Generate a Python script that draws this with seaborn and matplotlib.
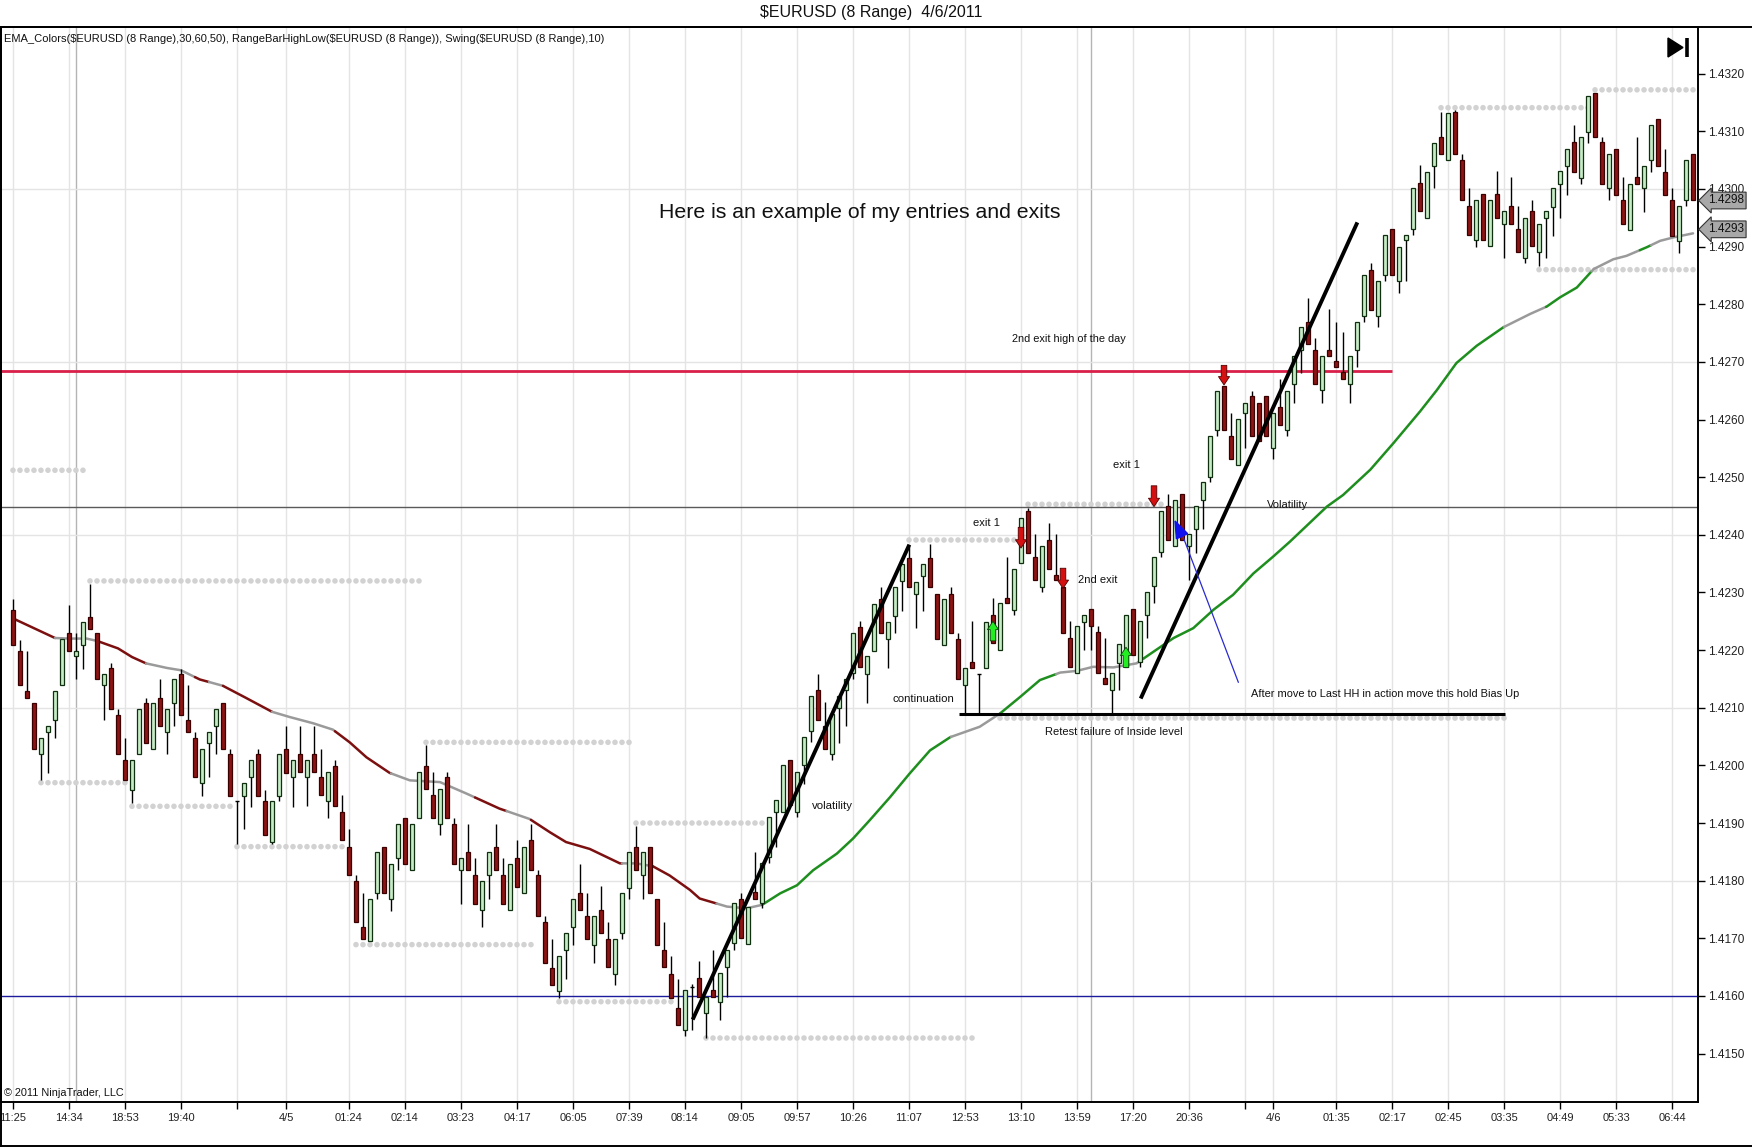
import numpy as np
import matplotlib
matplotlib.use("Agg")
import matplotlib.pyplot as plt
from matplotlib.lines import Line2D
import seaborn as sns

# price values are stored as pips above BASE
BASE = 1.4100
PIP = 0.0001

# range bar candles (open, close, high, low), bar 1..241
opens = [126.9, 119.8, 112.9, 110.8, 101.9, 105.8, 107.8, 113.9, 122.9, 119.0,
         120.8, 125.8, 122.9, 113.9, 116.9, 108.8, 100.9, 95.7, 101.9, 110.8,
         102.8, 111.7, 105.8, 110.8, 115.8, 107.8, 104.8, 96.9, 103.8, 106.8,
         110.8, 101.9, 93.8, 94.7, 97.9, 101.9, 93.8, 86.7, 94.7, 102.8,
         97.9, 102.0, 98.0, 102.0, 98.0, 93.9, 99.9, 91.9, 85.9, 80.0,
         71.9, 69.6, 77.8, 85.9, 76.8, 83.9, 90.9, 81.9, 90.9, 99.9,
         94.9, 89.8, 98.0, 89.8, 81.9, 84.9, 81.0, 74.9, 81.0, 85.9,
         81.0, 74.9, 83.9, 77.8, 87.0, 81.0, 72.9, 64.9, 60.9, 68.0,
         71.9, 77.8, 73.9, 68.9, 74.9, 69.9, 63.8, 70.9, 78.8, 85.9,
         81.0, 85.9, 76.8, 68.0, 63.8, 57.9, 54.1, 61.5, 63.1, 57.0,
         61.1, 59.0, 65.1, 69.1, 76.9, 69.0, 78.1, 76.1, 84.1, 91.9,
         91.9, 101.0, 91.9, 100.0, 106.0, 113.0, 106.9, 102.0, 109.9, 113.0,
         116.0, 124.0, 115.9, 119.9, 128.9, 121.9, 126.0, 132.0, 136.0, 129.8,
         132.9, 136.0, 129.8, 120.9, 129.8, 121.9, 114.0, 117.9, 115.9, 116.9,
         126.1, 120.0, 129.0, 127.0, 135.1, 144.1, 136.2, 131.0, 139.1, 133.0,
         131.0, 122.1, 116.0, 124.9, 127.1, 123.2, 115.1, 113.1, 117.7, 117.1,
         127.1, 118.0, 126.1, 131.1, 137.1, 145.0, 138.0, 147.0, 138.0, 141.0,
         146.1, 150.1, 158.2, 165.8, 157.2, 152.1, 161.1, 164.0, 162.9, 164.0,
         155.0, 162.1, 158.2, 166.1, 172.1, 177.0, 172.1, 165.1, 172.1, 170.1,
         168.2, 166.1, 172.1, 178.0, 186.0, 178.0, 185.0, 193.0, 184.0, 191.2,
         193.0, 201.0, 195.0, 204.0, 209.1, 205.1, 213.4, 205.1, 197.1, 191.2,
         199.1, 190.1, 199.1, 194.0, 197.1, 193.0, 188.0, 196.1, 189.0, 195.0,
         196.9, 200.9, 204.0, 208.1, 201.9, 209.9, 216.6, 208.1, 200.1, 207.0,
         198.0, 192.9, 202.0, 200.1, 205.0, 212.1, 203.0, 198.0, 190.9, 198.0,
         206.0]
closes = [120.8, 113.9, 111.7, 102.8, 104.8, 106.8, 112.9, 122.0, 119.8, 119.8,
          124.8, 123.7, 114.9, 115.8, 109.8, 101.9, 97.5, 100.9, 109.8, 103.8,
          110.8, 106.8, 109.8, 114.9, 108.8, 105.8, 97.9, 102.8, 105.8, 109.8,
          102.8, 94.7, 93.8, 96.9, 100.9, 94.7, 87.9, 93.8, 101.9, 98.7,
          100.9, 98.8, 101.0, 98.8, 94.9, 98.8, 92.9, 87.0, 81.0, 72.8,
          69.9, 76.8, 84.9, 77.8, 82.9, 89.8, 82.9, 89.8, 98.9, 95.9,
          90.9, 95.9, 90.9, 82.9, 83.9, 81.9, 75.9, 80.0, 84.9, 81.9,
          75.9, 82.9, 78.9, 85.9, 81.9, 73.9, 65.8, 61.9, 67.0, 70.9,
          76.8, 74.9, 69.9, 73.9, 70.9, 65.0, 69.9, 77.8, 84.9, 81.9,
          84.9, 77.8, 68.9, 65.0, 59.7, 55.0, 61.0, 61.5, 59.9, 59.9,
          59.9, 63.9, 68.0, 76.1, 70.0, 75.5, 76.9, 83.0, 91.1, 94.0,
          100.0, 93.1, 98.9, 104.9, 112.0, 107.8, 102.9, 109.0, 112.0, 115.0,
          123.0, 117.0, 119.0, 128.0, 123.0, 124.8, 130.9, 134.9, 131.0, 131.9,
          134.9, 131.0, 121.9, 128.9, 123.0, 115.0, 116.9, 116.9, 115.9, 124.8,
          121.2, 128.1, 128.1, 134.0, 143.0, 136.9, 132.2, 138.0, 134.0, 132.2,
          123.0, 117.1, 124.1, 126.1, 124.1, 116.0, 114.1, 116.0, 121.1, 126.1,
          119.2, 125.1, 130.0, 136.1, 144.1, 139.1, 146.1, 139.1, 140.2, 145.0,
          149.1, 157.2, 165.0, 158.2, 153.1, 160.1, 162.9, 157.2, 156.2, 157.2,
          161.1, 159.1, 165.0, 171.0, 176.0, 173.1, 166.1, 171.0, 171.0, 169.1,
          167.0, 171.0, 177.0, 185.0, 179.0, 184.0, 192.1, 185.0, 190.0, 192.1,
          200.1, 196.1, 203.0, 208.0, 206.0, 213.1, 206.0, 198.1, 192.1, 198.1,
          191.2, 198.1, 195.0, 196.1, 194.0, 189.0, 195.0, 190.1, 194.0, 196.1,
          200.1, 203.1, 207.0, 203.0, 209.1, 216.2, 209.1, 200.9, 206.0, 199.0,
          194.0, 200.9, 200.9, 204.0, 211.1, 204.0, 199.0, 191.9, 197.0, 205.1,
          198.0]
highs = [128.8, 121.8, 119.8, 110.8, 104.8, 106.8, 112.9, 122.0, 127.9, 122.9,
         124.8, 131.4, 122.9, 115.8, 117.8, 109.8, 104.8, 100.9, 109.8, 111.7,
         110.8, 114.9, 109.8, 114.9, 116.8, 113.9, 105.8, 102.8, 105.8, 109.8,
         110.8, 102.8, 93.8, 96.9, 100.9, 102.8, 95.8, 93.8, 101.9, 106.8,
         100.9, 106.9, 101.0, 106.9, 102.9, 98.8, 101.0, 94.9, 89.0, 81.0,
         77.9, 76.8, 84.9, 85.9, 82.9, 89.8, 90.9, 89.8, 98.9, 103.5,
         98.9, 95.9, 98.9, 90.9, 83.9, 89.8, 83.9, 80.0, 84.9, 89.8,
         83.9, 82.9, 87.0, 85.9, 89.8, 81.9, 73.9, 69.9, 67.0, 70.9,
         76.8, 82.9, 77.8, 73.9, 79.0, 72.9, 69.9, 77.8, 84.9, 89.4,
         84.9, 85.9, 76.8, 72.9, 67.0, 62.9, 61.0, 62.1, 66.0, 59.9,
         68.0, 63.9, 68.0, 76.1, 77.8, 75.5, 85.0, 83.0, 91.1, 94.0,
         100.0, 101.0, 98.9, 104.9, 112.0, 115.9, 111.0, 109.0, 112.0, 115.0,
         123.0, 125.0, 119.0, 128.0, 131.0, 124.8, 130.9, 134.9, 138.1, 131.9,
         134.9, 138.4, 129.8, 128.9, 130.9, 123.0, 116.9, 125.0, 115.9, 124.8,
         129.0, 128.1, 136.2, 134.0, 143.0, 144.6, 140.2, 138.0, 142.0, 140.2,
         131.0, 125.1, 124.1, 126.1, 127.1, 124.1, 122.1, 116.0, 121.1, 126.1,
         127.1, 125.1, 130.0, 136.1, 144.1, 147.0, 146.1, 147.0, 140.2, 145.0,
         149.1, 157.2, 165.0, 165.8, 161.1, 160.1, 162.9, 165.0, 162.9, 164.0,
         161.1, 167.0, 165.0, 171.0, 176.0, 181.0, 174.1, 171.0, 179.1, 177.0,
         175.1, 171.0, 177.0, 185.0, 187.1, 184.0, 192.1, 193.0, 190.0, 192.1,
         200.1, 204.2, 203.0, 208.0, 213.4, 213.1, 213.7, 206.0, 200.1, 198.1,
         199.1, 198.1, 203.1, 196.1, 202.0, 197.1, 195.0, 198.1, 194.0, 196.1,
         200.1, 203.1, 207.0, 211.1, 209.1, 216.2, 216.6, 209.1, 206.0, 207.0,
         202.0, 200.9, 209.1, 204.0, 211.1, 212.1, 207.0, 200.1, 197.0, 205.1,
         206.0]
lows = [120.8, 113.9, 111.7, 102.8, 97.5, 98.7, 104.8, 113.9, 119.8, 114.9,
        116.8, 123.7, 114.9, 107.8, 109.8, 101.9, 97.5, 93.5, 101.9, 103.8,
        102.8, 106.8, 101.9, 106.8, 108.8, 105.8, 97.9, 94.7, 97.9, 101.9,
        102.8, 94.7, 86.3, 88.9, 92.8, 94.7, 87.9, 86.3, 93.8, 98.7,
        92.8, 98.8, 92.9, 98.8, 94.9, 90.9, 92.9, 87.0, 81.0, 72.8,
        69.9, 69.6, 76.8, 77.8, 74.8, 81.9, 82.9, 81.9, 90.9, 95.9,
        90.9, 87.9, 90.9, 82.9, 75.9, 81.9, 75.9, 71.9, 76.8, 81.9,
        75.9, 74.9, 78.9, 77.8, 81.9, 73.9, 65.8, 61.9, 59.7, 62.9,
        68.9, 74.9, 69.9, 65.8, 70.9, 65.0, 61.9, 69.9, 76.8, 81.9,
        76.8, 77.8, 68.9, 65.0, 59.7, 55.0, 53.1, 54.1, 59.9, 52.7,
        59.9, 55.9, 59.9, 68.0, 70.0, 69.0, 76.9, 75.2, 83.0, 85.9,
        91.9, 93.1, 91.1, 96.8, 104.1, 107.8, 102.9, 101.0, 103.9, 106.9,
        115.0, 117.0, 110.8, 119.9, 123.0, 116.9, 123.0, 126.8, 131.0, 123.8,
        126.8, 131.0, 121.9, 120.9, 123.0, 115.0, 109.0, 116.9, 109.0, 116.9,
        121.2, 120.0, 128.1, 126.1, 135.1, 136.9, 132.2, 130.0, 134.0, 132.2,
        123.0, 117.1, 116.0, 120.0, 120.0, 116.0, 114.1, 108.9, 113.1, 117.1,
        119.2, 117.1, 122.1, 128.1, 136.1, 139.1, 138.0, 139.1, 132.2, 136.9,
        141.0, 149.1, 157.2, 158.2, 153.1, 152.1, 155.0, 157.2, 156.2, 157.2,
        153.1, 159.1, 157.2, 162.9, 168.0, 173.1, 166.1, 162.9, 171.0, 169.1,
        167.0, 162.9, 169.1, 177.0, 179.0, 176.0, 184.0, 185.0, 182.0, 184.0,
        192.1, 196.1, 195.0, 200.1, 206.0, 205.1, 206.0, 198.1, 192.1, 190.0,
        191.2, 190.1, 195.0, 188.0, 194.0, 189.0, 187.1, 190.1, 186.7, 188.0,
        191.9, 194.9, 198.9, 203.0, 200.9, 208.0, 209.1, 200.9, 198.0, 199.0,
        194.0, 192.9, 200.9, 196.0, 203.0, 204.0, 199.0, 191.9, 188.9, 197.0,
        198.0]

# EMA read at sample bars
ema_bars = [1, 7, 9, 11.5, 13, 16, 18, 20, 23, 25, 27.7, 31, 34.3, 38, 40.5, 43.9,
            46.7, 49.1, 51.5, 54.8, 57.7, 62, 65.8, 70.5, 74.8, 77.7, 80, 83.4, 87.7,
            90, 92.4, 94.8, 97.7, 99.1, 103, 105.8, 108, 110.6, 113, 115.3, 118.7,
            121, 123.4, 126.3, 129.1, 132, 134.9, 137.7, 139.1, 142, 144.9, 147.7,
            150.6, 153, 155.3, 158.2, 161.5, 163.9, 166.8, 169.6, 172.5, 175.3,
            178.2, 181, 183.4, 188.7, 191, 194.9, 198.2, 202, 204.4, 207.2, 210.1,
            213.9, 217.7, 220.1, 222, 224.4, 226.8, 229.6, 231.5, 234.4, 236.3,
            238.2, 241]
ema_pips = [125.5, 122.1, 122.0, 122.0, 121.6, 120.3, 118.8, 117.7, 116.9, 116.5,
            114.9, 113.8, 111.7, 109.3, 108.4, 107.3, 106.2, 104.0, 101.4, 98.7,
            97.4, 97.1, 95.1, 92.5, 90.7, 88.4, 86.7, 85.5, 83.0, 83.0, 82.5, 80.9,
            78.4, 76.9, 75.5, 75.2, 75.8, 77.8, 79.2, 81.8, 84.7, 87.3, 90.5, 94.5,
            98.6, 102.6, 104.9, 106.1, 106.7, 109.0, 111.9, 114.8, 116.1, 116.4,
            117.1, 117.0, 117.7, 119.7, 122.1, 123.8, 127.0, 129.6, 133.3, 136.2,
            138.8, 144.9, 146.9, 151.3, 155.9, 161.4, 165.1, 169.8, 172.8, 176.0,
            178.3, 179.6, 181.2, 182.9, 186.1, 187.8, 188.4, 189.9, 191.0, 191.6,
            192.3]
ema_breaks = [1, 7, 13, 20, 27, 29, 31, 38, 47, 55, 67, 71.5, 75, 88, 92.4, 101.5,
              108, 135, 142, 150, 162.5, 214, 220, 226.5, 233.4, 235, 241]
ema_trend = ['dn', 'flat', 'dn', 'flat', 'dn', 'flat', 'dn', 'flat', 'dn', 'flat',
             'dn', 'flat', 'dn', 'flat', 'dn', 'flat', 'up', 'flat', 'up', 'flat',
             'up', 'flat', 'up', 'flat', 'up', 'flat']

# swing high/low dot rows (first bar, last bar, level)
swing_start = [1, 5, 12, 18, 33, 50, 60, 79, 90, 100, 129, 142, 146, 205, 219, 227]
swing_end = [11, 17, 59, 32, 48, 75, 89, 95, 108, 138, 144, 214, 165, 226, 241, 241]
swing_pips = [151.2, 97.0, 132.0, 92.9, 85.9, 68.9, 104.0, 59.0, 90.0, 52.7,
              139.1, 108.2, 145.3, 214.1, 186.0, 217.2]

# x axis
tick_bars = [1, 9, 17, 25, 33, 40, 49, 57, 65, 73, 81, 89, 97, 105, 113, 121, 129,
             137, 145, 153, 161, 169, 177, 181, 190, 198, 206, 214, 222, 230, 238]
tick_labels = ['11:25', '14:34', '18:53', '19:40', '', '4/5', '01:24', '02:14',
               '03:23', '04:17', '06:05', '07:39', '08:14', '09:05', '09:57', '10:26',
               '11:07', '12:53', '13:10', '13:59', '17:20', '20:36', '', '4/6',
               '01:35', '02:17', '02:45', '03:35', '04:49', '05:33', '06:44']
session_bars = [10, 155]
y_ticks = [1.4150 + 0.001 * i for i in range(18)]
y_grid = [1.4180, 1.4210, 1.4240, 1.4270, 1.4300]

# drawn objects
trend_x = [[98.1, 129.05], [162.1, 193.05]]
trend_pips = [[55.9, 138.3], [111.6, 194.2]]
support_bars = [136.1, 214.1]
support_pips = 108.9
day_high_bars = [-0.7, 198]
day_high_pips = 168.5
level_pips = 144.9
low_level_pips = 60.0
blue_x = [176.05, 167.7]
blue_pips = [114.4, 141.1]
blue_head_x = [167.0, 167.2, 168.8]
blue_head_pips = [142.4, 139.3, 140.2]
exit_bars = [145, 151, 164, 174]
exit_tail = [141.3, 134.2, 148.5, 169.4]
exit_tip = [137.7, 130.7, 144.9, 166.0]
entry_bars = [141, 160]
entry_tail = [121.6, 117.0]
entry_tip = [125.0, 120.5]

note_text = ['Here is an example of my entries and exits', '2nd exit high of the day',
             'exit 1', 'exit 1', '2nd exit', 'Volatility',
             'After move to Last HH in action move this hold Bias Up',
             'Retest failure of Inside level', 'continuation', 'volatility']
note_bar = [121.9, 151.9, 160.0, 140.1, 156.0, 183.1, 197.0, 158.2, 131.0, 118.0]
note_pips = [196.0, 173.9, 152.1, 142.0, 132.2, 145.1, 112.4, 105.8, 111.6, 92.9]
note_size = [15.3, 7.9, 8, 8, 8, 8, 7.9, 8, 8.2, 8.2]

last_close = 1.4298
last_ema = 1.4293


def px(v):
    return BASE + np.asarray(v, dtype=float) * PIP


sns.set_theme(style='white')
plt.rcParams['font.family'] = ['Liberation Sans', 'DejaVu Sans']

W, H = 1752, 1147
fig = plt.figure(figsize=(W / 100, H / 100), dpi=100)
ax = fig.add_axes([1 / W, 1 - 1102 / H, 1697 / W, 1075 / H])
xlim = (-0.71, 241.71)
ylim = (1.41416, 1.43281)
ax.set_xlim(*xlim)
ax.set_ylim(*ylim)

# grid
ax.vlines(tick_bars, ylim[0], ylim[1], color='#e4e4e4', lw=1, zorder=0)
ax.vlines(session_bars, ylim[0], ylim[1], color='#b4b4b4', lw=1, zorder=0)
ax.hlines(y_grid, xlim[0], xlim[1], color='#e4e4e4', lw=1, zorder=0)

# swing dots
dot_x, dot_y = [], []
for s, e, p in zip(swing_start, swing_end, swing_pips):
    xs = np.arange(s, e + 1)
    dot_x.extend(xs)
    dot_y.extend([px(p)] * len(xs))
sns.scatterplot(x=dot_x, y=dot_y, color='#d2d2d2', s=16, edgecolor='none', ax=ax, zorder=1)

# horizontal levels
ax.hlines(px(level_pips), xlim[0], xlim[1], color='#5a5a5a', lw=1, zorder=2)
ax.hlines(px(low_level_pips), xlim[0], xlim[1], color='#1c1c9c', lw=1, zorder=2)
ax.hlines(px(day_high_pips), day_high_bars[0], day_high_bars[1], color='#d8204a', lw=2, zorder=2)

# EMA with trend colours
ema_col = {'dn': '#7c0f0f', 'flat': '#9a9a9a', 'up': '#1e8e1e'}
ex = np.array(ema_bars, dtype=float)
ey = px(ema_pips)
for b0, b1, t in zip(ema_breaks[:-1], ema_breaks[1:], ema_trend):
    xs = np.concatenate([[b0], ex[(ex > b0) & (ex < b1)], [b1]])
    ys = np.interp(xs, ex, ey)
    sns.lineplot(x=xs, y=ys, color=ema_col[t], lw=1.8, sort=False, ax=ax, zorder=3)

# candles
bars = np.arange(1, len(opens) + 1)
o, c, h, l = px(opens), px(closes), px(highs), px(lows)
ax.vlines(bars, l, h, color='black', lw=1, zorder=4)
up = c > o
dn = c < o
ax.bar(bars[up], (c - o)[up], bottom=o[up], width=0.46, color='#c6ecc6',
       edgecolor='#0f2f0f', linewidth=0.9, zorder=5)
ax.bar(bars[dn], (o - c)[dn], bottom=c[dn], width=0.46, color='#8c1414',
       edgecolor='#3a0000', linewidth=0.9, zorder=5)
flat = ~(up | dn)
ax.hlines(o[flat], bars[flat] - 0.25, bars[flat] + 0.25, color='black', lw=1, zorder=5)

# trend lines and support
for tx, tp in zip(trend_x, trend_pips):
    ax.plot(tx, px(tp), color='black', lw=2.8, solid_capstyle='butt', zorder=6)
ax.hlines(px(support_pips), support_bars[0], support_bars[1], color='black', lw=2.2, zorder=6)

# blue pointer
ax.plot(blue_x, px(blue_pips), color='#2a2ad0', lw=0.9, zorder=6)
ax.fill(blue_head_x, px(blue_head_pips), color='#1010ee', zorder=7)

# entry / exit arrows
arrow_style = 'simple,head_length=0.6,head_width=0.8,tail_width=0.4'
for b, t0, t1 in zip(exit_bars, exit_tail, exit_tip):
    ax.annotate('', xy=(b, px(t1)), xytext=(b, px(t0)),
                arrowprops=dict(arrowstyle=arrow_style, fc='#d41010', ec='#500000',
                                lw=0.6, shrinkA=0, shrinkB=0, mutation_scale=10), zorder=8)
for b, t0, t1 in zip(entry_bars, entry_tail, entry_tip):
    ax.annotate('', xy=(b, px(t1)), xytext=(b, px(t0)),
                arrowprops=dict(arrowstyle=arrow_style, fc='#22ee22', ec='#0a400a',
                                lw=0.6, shrinkA=0, shrinkB=0, mutation_scale=10), zorder=8)

# notes
for txt, b, p, fs in zip(note_text, note_bar, note_pips, note_size):
    ax.text(b, px(p), txt, ha='center', va='center', fontsize=fs, color='#111111', zorder=9)

# axes styling
for sp in ax.spines.values():
    sp.set_visible(True)
    sp.set_color('black')
    sp.set_linewidth(1.4)
ax.yaxis.tick_right()
ax.set_yticks(y_ticks)
ax.set_yticklabels([f'{v:.4f}' for v in y_ticks])
ax.set_xticks(tick_bars)
ax.set_xticklabels(tick_labels)
ax.tick_params(axis='y', direction='out', length=5, width=1, color='black',
               labelsize=8.5, pad=2, labelcolor='#222222', right=True, left=False)
ax.tick_params(axis='x', direction='out', length=5, width=1, color='black',
               labelsize=8, pad=3, labelcolor='#222222', bottom=True)
ax.set_xlabel('')
ax.set_ylabel('')

# last price / ema value labels on the price axis
for v in [last_close, last_ema]:
    ax.annotate(f'{v:.4f}', xy=(1.0, v), xycoords=('axes fraction', 'data'),
                xytext=(7, 0), textcoords='offset points', ha='left', va='center',
                fontsize=8.5, color='#111111', annotation_clip=False, zorder=10,
                bbox=dict(boxstyle='larrow,pad=0.2', fc='#a8a8a8', ec='#333333', lw=0.8))

# chart header texts
ax.text(0.0015, 0.9888,
        r'EMA_Colors(\$EURUSD (8 Range),30,60,50), RangeBarHighLow(\$EURUSD (8 Range)), Swing(\$EURUSD (8 Range),10)',
        transform=ax.transAxes, ha='left', va='center', fontsize=8, color='#111111')
ax.text(0.0015, 0.004, '© 2011 NinjaTrader, LLC', transform=ax.transAxes,
        ha='left', va='bottom', fontsize=7.8, color='#111111')

# "go to last bar" button
ax.fill([0.98232, 0.98232, 0.99116], [0.98977, 0.97209, 0.98093], transform=ax.transAxes,
        color='black', clip_on=False, zorder=10)
ax.plot([0.99381, 0.99381], [0.97209, 0.98977], transform=ax.transAxes, color='black',
        lw=2.6, solid_capstyle='butt', clip_on=False, zorder=10)

fig.text(0.497, 1 - 13 / H, r'\$EURUSD (8 Range)  4/6/2011', ha='center', va='center',
         fontsize=11.5, color='#111111')

# outer frame of the chart window
top = 1 - 27 / H
fig.add_artist(Line2D([0, 1], [top, top], color='black', lw=1.4))
fig.add_artist(Line2D([0.0006, 0.0006], [0, top], color='black', lw=1.4))
fig.add_artist(Line2D([0, 1], [0.0008, 0.0008], color='black', lw=1.4))

fig.savefig('out.png', dpi=100)
